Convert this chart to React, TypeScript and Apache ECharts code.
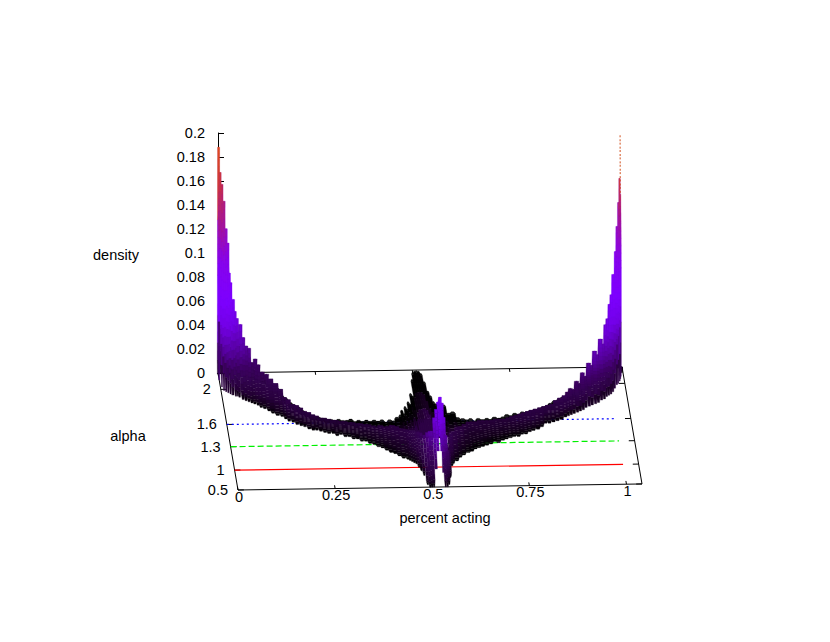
import React, { useEffect, useRef } from "react";
import * as echarts from "echarts";

// ---- axis content ----
const xTickValues = [0, 0.25, 0.5, 0.75, 1];
const xTickLabels = ["0", "0.25", "0.5", "0.75", "1"];
const alphaTickLabels = ["2", "1.6", "1.3", "1", "0.5"];
const alphaTickDepth = [0.14, 0.44, 0.63, 0.83, 1];
const guideAlpha = ["1", "1.3", "1.6"];
const guideColors = ["#ff0000", "#00f000", "#0000ff"];
const guideDash: (number[] | null)[] = [null, [6, 3], [2, 3]];

// ---- surface, one ridge per column ----
// percent acting (axis units; the matrix runs slightly past the tick labelled 1)
const columnX = [
  0, 0.004, 0.008, 0.013, 0.018, 0.023, 0.027, 0.03, 0.036, 0.041, 0.045, 0.053, 0.06, 0.067, 0.074, 0.081, 0.089, 0.096, 0.105, 0.115, 0.124, 0.135, 0.146,
  0.154, 0.162, 0.172, 0.181, 0.191, 0.2, 0.21, 0.22, 0.229, 0.239, 0.249, 0.259, 0.27, 0.279, 0.289, 0.3, 0.31, 0.32, 0.33, 0.34, 0.35, 0.36, 0.37, 0.38, 0.39, 0.4, 0.41, 0.42, 0.43,
  0.44, 0.45, 0.455, 0.46, 0.465, 0.47, 0.475, 0.48, 0.485, 0.49, 0.495, 0.5, 0.505, 0.51, 0.515, 0.52, 0.525, 0.53, 0.535, 0.54, 0.545, 0.55, 0.56, 0.565, 0.575, 0.585, 0.595, 0.608,
  0.618, 0.628, 0.638, 0.648, 0.659, 0.67, 0.68, 0.69, 0.702, 0.712, 0.723, 0.733, 0.744, 0.754, 0.764, 0.775, 0.785, 0.797,
  0.808, 0.819, 0.829, 0.84, 0.851, 0.862, 0.873,
  0.881, 0.889, 0.897, 0.906, 0.914, 0.922, 0.93, 0.939, 0.947, 0.956, 0.964,
  0.973, 0.981, 0.988, 0.994, 1.0, 1.006, 1.012, 1.019, 1.023, 1.028, 1.031, 1.033, 1.037,
];
// rear end of the non-zero band, as a share of the alpha axis depth
const rearDepth = [
  0, 0, 0, 0, 0, 0, 0, 0.01, 0.01, 0.01, 0.01, 0.02, 0.02, 0.02, 0.03, 0.03, 0.04, 0.04, 0.05, 0.06, 0.08, 0.1, 0.14,
  0.2, 0.22, 0.26, 0.28, 0.3, 0.33, 0.35, 0.37, 0.38, 0.39, 0.4, 0.41, 0.41, 0.42, 0.41, 0.42, 0.42, 0.41, 0.43, 0.42, 0.43, 0.42, 0.43, 0.42, 0.43, 0.42, 0.44, 0.42, 0.43,
  0.4, 0.38, 0.34, 0.37, 0.31, 0.33, 0.27, 0.29, 0.2, 0.22, 0.08, 0.02, 0.01, 0.005, 0.01, 0.03, 0.1, 0.18, 0.22, 0.27, 0.29, 0.32, 0.34, 0.3, 0.37, 0.36, 0.41, 0.42,
  0.43, 0.42, 0.44, 0.42, 0.43, 0.42, 0.43, 0.41, 0.42, 0.41, 0.39, 0.4, 0.38, 0.39, 0.37, 0.37, 0.36, 0.35,
  0.35, 0.33, 0.32, 0.3, 0.28, 0.27, 0.25,
  0.24, 0.23, 0.22, 0.2, 0.18, 0.17, 0.15, 0.14, 0.12, 0.1, 0.08,
  0.07, 0.05, 0.04, 0.03, 0.02, 0.01, 0, 0, 0, 0, 0, 0, 0,
];
// depth of the ridge crest
const crestDepth = [
  0.03, 0.03, 0.04, 0.04, 0.05, 0.05, 0.05, 0.06, 0.06, 0.06, 0.07, 0.08, 0.09, 0.1, 0.11, 0.12, 0.13, 0.14, 0.16, 0.18, 0.2, 0.23, 0.27,
  0.32, 0.35, 0.37, 0.39, 0.4, 0.42, 0.43, 0.44, 0.45, 0.46, 0.46, 0.47, 0.48, 0.48, 0.49, 0.49, 0.5, 0.5, 0.51, 0.51, 0.52, 0.52, 0.53, 0.54, 0.54, 0.55, 0.55, 0.55, 0.56,
  0.58, 0.59, 0.6, 0.62, 0.63, 0.64, 0.66, 0.68, 0.72, 0.78, 0.82, 0.85, 0.86, 0.88, 0.88, 0.9, 0.9, 0.9, 0.9, 0.9, 0.9, 0.82, 0.7, 0.66, 0.62, 0.58, 0.56, 0.53,
  0.51, 0.51, 0.51, 0.5, 0.5, 0.5, 0.5, 0.49, 0.49, 0.49, 0.48, 0.48, 0.47, 0.47, 0.46, 0.46, 0.45, 0.44,
  0.43, 0.42, 0.41, 0.4, 0.39, 0.38, 0.37,
  0.36, 0.35, 0.34, 0.33, 0.32, 0.31, 0.3, 0.29, 0.27, 0.26, 0.24,
  0.22, 0.2, 0.18, 0.16, 0.15, 0.13, 0.11, 0.09, 0.08, 0.06, 0.05, 0.04, 0.03,
];
// front end of the non-zero band
const frontDepth = [
  0.06, 0.12, 0.15, 0.16, 0.17, 0.18, 0.19, 0.19, 0.2, 0.2, 0.21, 0.23, 0.24, 0.25, 0.26, 0.27, 0.28, 0.3, 0.31, 0.33, 0.35, 0.37, 0.38,
  0.4, 0.42, 0.43, 0.45, 0.46, 0.47, 0.49, 0.5, 0.5, 0.51, 0.52, 0.53, 0.53, 0.55, 0.54, 0.56, 0.56, 0.58, 0.58, 0.6, 0.6, 0.62, 0.63, 0.65, 0.66, 0.68, 0.7, 0.71, 0.73,
  0.75, 0.76, 0.77, 0.78, 0.79, 0.8, 0.83, 0.86, 0.9, 0.98, 1, 1, 1, 1, 1, 1, 1, 1, 1, 1, 0.98, 0.92, 0.82, 0.8, 0.78, 0.75, 0.73, 0.71,
  0.7, 0.68, 0.67, 0.66, 0.65, 0.64, 0.62, 0.63, 0.61, 0.6, 0.59, 0.58, 0.58, 0.56, 0.56, 0.54, 0.53, 0.52,
  0.5, 0.47, 0.47, 0.46, 0.45, 0.44, 0.42,
  0.41, 0.4, 0.39, 0.38, 0.37, 0.36, 0.34, 0.33, 0.32, 0.31, 0.3,
  0.28, 0.27, 0.25, 0.24, 0.23, 0.21, 0.18, 0.15, 0.14, 0.12, 0.1, 0.08, 0.05,
];
// density at the crest
const crestDensity = [
  0.191, 0.17, 0.161, 0.147, 0.125, 0.113, 0.088, 0.081, 0.067, 0.057, 0.052, 0.048, 0.038, 0.032, 0.031, 0.02, 0.024, 0.02, 0.016, 0.016, 0.014, 0.013, 0.012,
  0.01, 0.011, 0.009, 0.01, 0.009, 0.008, 0.008, 0.007, 0.007, 0.006, 0.006, 0.006, 0.006, 0.006, 0.006, 0.006, 0.006, 0.006, 0.006, 0.006, 0.006, 0.006, 0.006, 0.006, 0.007, 0.007, 0.007, 0.008, 0.008,
  0.008, 0.008, 0.009, 0.01, 0.011, 0.012, 0.013, 0.015, 0.018, 0.022, 0.028, 0.032, 0.033, 0.046, 0.053, 0.061, 0.065, 0.06, 0.048, 0.033, 0.02, 0.013, 0.012, 0.011, 0.009, 0.008, 0.007, 0.006,
  0.006, 0.006, 0.006, 0.006, 0.006, 0.006, 0.006, 0.006, 0.006, 0.006, 0.006, 0.007, 0.007, 0.008, 0.008, 0.009, 0.009, 0.009,
  0.009, 0.009, 0.009, 0.009, 0.011, 0.012, 0.013,
  0.015, 0.017, 0.015, 0.021, 0.018, 0.026, 0.022, 0.032, 0.028, 0.039, 0.034,
  0.045, 0.039, 0.053, 0.056, 0.067, 0.073, 0.088, 0.105, 0.125, 0.143, 0.162, 0.197, 0.003,
];
// density left on the front row (alpha = 0.5), only non-zero at the centre
const frontRowX = [0.51, 0.515, 0.52, 0.525, 0.53];
const frontRowDensity = [0.015, 0.03, 0.042, 0.03, 0.012];

// colour by density
const paletteDensity = [0, 0.002, 0.006, 0.012, 0.02, 0.03, 0.05, 0.07, 0.1, 0.13, 0.16, 0.19];
const paletteColor = [
  [0, 0, 0], [22, 0, 30], [40, 0, 60], [50, 5, 78], [62, 0, 100], [85, 0, 155], [115, 0, 230], [125, 0, 255], [135, 5, 235], [165, 20, 150], [205, 55, 60], [225, 80, 25],
];

// projection of the (gnuplot) view: shift per unit of depth and tilt per unit of x
const DEPTH_DX = 20;
const DEPTH_DY = 117;
const TILT = 5.8;
const X_MAX = 1.04;
const TEXT = "14.5px 'Liberation Sans', Arial, sans-serif";

function colorOf(z: number) {
  let i = 0;
  while (i < paletteDensity.length - 2 && z > paletteDensity[i + 1]) i++;
  const a = paletteDensity[i];
  const b = paletteDensity[i + 1];
  const f = Math.min(1, Math.max(0, (z - a) / (b - a)));
  const c = paletteColor[i].map((v, k) => Math.round(v + (paletteColor[i + 1][k] - v) * f));
  return `rgb(${c[0]},${c[1]},${c[2]})`;
}

function projector(api: any) {
  return (x: number, t: number, z: number, dx = 0): number[] => {
    const p = api.coord([x, z]);
    return [p[0] + dx + DEPTH_DX * t, p[1] + DEPTH_DY * t - TILT * x];
  };
}

// part "rear" draws rear foot -> crest, part "front" draws crest -> front foot
const renderSurface = (part: "rear" | "front") => (_: any, api: any) => {
  const P = projector(api);
  const x = api.value(0);
  const t0 = api.value(1);
  const tm = api.value(2);
  const t1 = api.value(3);
  const zp = api.value(4);
  const zf = api.value(5);
  const half = api.value(6);
  // each section: depth, density, half width in pixels
  const sections: number[][] = [];
  const children: any[] = [];
  if (part === "rear") {
    // the sheet between rear slope and crest of the columns that crest close to the front row
    if (tm > 0.7) {
      const shade = colorOf(0.009);
      children.push({
        type: "polygon",
        shape: { points: [P(x, 0.42, 0, -half), P(x, 0.42, 0, half), P(x, 0.58, 0, half), P(x, 0.58, 0, -half)] },
        style: { fill: shade, stroke: shade, lineWidth: 0.3 },
      });
    }
    const fz = Math.min(0.4, 0.015 / Math.max(0.01, tm - t0));
    sections.push([t0, 0, half * 0.45]);
    sections.push([t0 + (tm - t0) * fz * 0.5, 0, half * 0.75]);
    const n = 5;
    for (let i = 0; i <= n; i++) {
      const f = fz + ((1 - fz) * i) / n;
      sections.push([t0 + (tm - t0) * f, zp * f * f * f, half]);
    }
  } else {
    const n = zp > 0.1 ? 18 : 10;
    const fz = zf > 0 ? 0 : Math.min(0.5, 0.018 / Math.max(0.01, t1 - tm));
    const widthOf = (z: number) => {
      const r = z / zp;
      const flat = zp < 0.015 || tm > 0.5; // low band and central columns keep their width
      const tip = flat || r < 0.55 ? 1 : 1 - (0.68 * (r - 0.55)) / 0.45;
      return Math.max(0.5, half * tip);
    };
    const at = (f: number, foot: number) => {
      const z = zp + (zf - zp) * f;
      sections.push([tm + (t1 - tm) * f, z, widthOf(z) * foot]);
    };
    for (let i = 0; i <= n; i++) at(((1 - fz) * i) / n, 1);
    if (fz > 0) {
      at(1 - fz / 2, 0.8);
      at(1, 0.5);
    }
  }
  const dottedTip = zp > 0.195;
  for (let i = 0; i < sections.length - 1; i++) {
    const [ta, za, wa] = sections[i];
    const [tb, zb, wb] = sections[i + 1];
    const mid = (za + zb) / 2;
    const col = colorOf(mid);
    if (dottedTip && mid > 0.15) {
      if (part === "rear") continue;
      const a = P(x, ta, za);
      const b = P(x, tb, zb);
      children.push({
        type: "line",
        shape: { x1: a[0], y1: a[1], x2: b[0], y2: b[1] },
        style: { stroke: "#d2501e", lineWidth: 1, lineDash: [2, 2] },
      });
      continue;
    }
    children.push({
      type: "polygon",
      shape: { points: [P(x, ta, za, -wa), P(x, ta, za, wa), P(x, tb, zb, wb), P(x, tb, zb, -wb)] },
      style: { fill: col, stroke: col, lineWidth: 0.3 },
    });
  }
  return { type: "group", children };
};

function depthOfAlpha(a: string) {
  return alphaTickDepth[alphaTickLabels.indexOf(a)];
}

const App = () => {
  const ref = useRef<HTMLDivElement>(null);
  useEffect(() => {
    const chart = echarts.init(ref.current!, undefined, { renderer: "svg" });

    const half = columnX.map((x, i) => {
      const a = columnX[Math.max(0, i - 1)];
      const b = columnX[Math.min(columnX.length - 1, i + 1)];
      return Math.max(0.7, ((b - a) / (i === 0 || i === columnX.length - 1 ? 1 : 2)) * 388 * 0.68);
    });
    const rows = columnX
      .map((x, i) => {
        const k = frontRowX.indexOf(x);
        return [x, rearDepth[i], crestDepth[i], frontDepth[i], crestDensity[i], k >= 0 ? frontRowDensity[k] : 0, half[i]];
      })
      .sort((a, b) => a[2] - b[2]);

    // frame: [x1, depth1, density1, x2, depth2, density2]
    const frame: number[][] = [
      [0, 0, 0, X_MAX, 0, 0],
      [X_MAX, 0, 0, X_MAX, 1, 0],
      [X_MAX, 1, 0, 0, 1, 0],
      [0, 1, 0, 0, 0, 0],
    ];
    xTickValues.forEach((v) => {
      frame.push([v, 0, 0, v, 0.028, 0]);
      frame.push([v, 1, 0, v, 0.972, 0]);
    });
    alphaTickDepth.forEach((t) => {
      frame.push([0, t, 0, 0.015, t, 0]);
      frame.push([X_MAX, t, 0, X_MAX - 0.015, t, 0]);
    });

    const renderFrame = (_: any, api: any) => {
      const P = projector(api);
      const a = P(api.value(0), api.value(1), api.value(2));
      const b = P(api.value(3), api.value(4), api.value(5));
      return {
        type: "line",
        shape: { x1: a[0], y1: a[1], x2: b[0], y2: b[1] },
        style: { stroke: "#000", lineWidth: 1 },
      };
    };

    const guideSeries = guideAlpha.map((a, i) => ({
      type: "custom",
      name: `alpha = ${a}`,
      coordinateSystem: "cartesian2d",
      silent: true,
      clip: false,
      data: [[0, 1]],
      encode: { x: 0, y: 1 },
      renderItem: (_: any, api: any) => {
        const P = projector(api);
        const t = depthOfAlpha(a);
        const s = P(0, t, 0);
        const e = P(1, t, 0);
        return {
          type: "line",
          shape: { x1: s[0], y1: s[1], x2: e[0], y2: e[1] },
          style: { stroke: guideColors[i], lineWidth: 1.2, lineDash: guideDash[i] },
        };
      },
    }));

    const textEl = (x: number, y: number, text: string, align: string) => ({
      type: "text",
      style: {
        x, y, text, fill: "#000", font: TEXT,
        align, textAlign: align, verticalAlign: "middle", textVerticalAlign: "middle",
      },
    });

    const surfaceSeries = (part: "rear" | "front") => ({
      type: "custom",
      name: `density surface ${part}`,
      coordinateSystem: "cartesian2d",
      silent: true,
      clip: false,
      data: rows,
      encode: { x: 0, y: 4 },
      renderItem: renderSurface(part),
    });

    chart.setOption({
      animation: false,
      backgroundColor: "#fff",
      grid: { left: 218, right: 208, top: 133, bottom: 269, containLabel: false },
      xAxis: { type: "value", min: 0, max: X_MAX, show: false },
      yAxis: {
        type: "value",
        min: 0,
        max: 0.2,
        interval: 0.02,
        axisLine: { show: true, onZero: false, lineStyle: { color: "#000", width: 1 } },
        axisTick: { show: true, inside: true, length: 6, lineStyle: { color: "#000", width: 1 } },
        axisLabel: { color: "#000", fontSize: 14.5, fontFamily: "'Liberation Sans', Arial, sans-serif", margin: 13 },
        splitLine: { show: false },
      },
      graphic: [
        { type: "text", x: 116, y: 255, style: { text: "density", font: TEXT, fill: "#000", textAlign: "center", textVerticalAlign: "middle", align: "center", verticalAlign: "middle" } },
        { type: "text", x: 128, y: 436, style: { text: "alpha", font: TEXT, fill: "#000", textAlign: "center", textVerticalAlign: "middle", align: "center", verticalAlign: "middle" } },
        { type: "text", x: 445, y: 518, style: { text: "percent acting", font: TEXT, fill: "#000", textAlign: "center", textVerticalAlign: "middle", align: "center", verticalAlign: "middle" } },
      ],
      series: [
        {
          type: "custom",
          name: "frame",
          coordinateSystem: "cartesian2d",
          silent: true,
          clip: false,
          data: frame,
          encode: { x: 0, y: 2 },
          renderItem: renderFrame,
        },
        ...guideSeries,
        surfaceSeries("rear"),
        surfaceSeries("front"),
        {
          type: "custom",
          name: "percent acting ticks",
          coordinateSystem: "cartesian2d",
          silent: true,
          clip: false,
          data: xTickValues.map((v, i) => [v, i]),
          encode: { x: 0 },
          renderItem: (_: any, api: any) => {
            const P = projector(api);
            const p = P(api.value(0), 1, 0);
            return textEl(p[0] + 1, p[1] + 6.5, xTickLabels[api.value(1)], "center");
          },
        },
        {
          type: "custom",
          name: "alpha ticks",
          coordinateSystem: "cartesian2d",
          silent: true,
          clip: false,
          data: alphaTickDepth.map((t, i) => [0, t, i]),
          encode: { x: 0 },
          renderItem: (_: any, api: any) => {
            const P = projector(api);
            const p = P(0, api.value(1), 0);
            return textEl(p[0] - 10, p[1], alphaTickLabels[api.value(2)], "right");
          },
        },
      ],
    });
    return () => chart.dispose();
  }, []);
  return <div ref={ref} style={{ position: "absolute", left: 0, top: 0, width: 830, height: 642 }} />;
};

export default App;
